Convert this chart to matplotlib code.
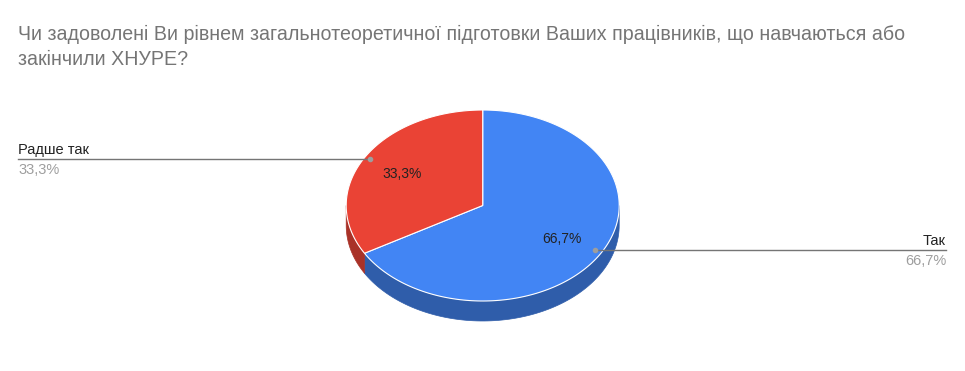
import numpy as np
import matplotlib
matplotlib.use("Agg")
import matplotlib.pyplot as plt
from matplotlib.patches import Polygon

title_lines = ["Чи задоволені Ви рівнем загальнотеоретичної підготовки Ваших працівників, що навчаються або",
               "закінчили ХНУРЕ?"]
categories = ["Так", "Радше так"]
values = [2, 1]
pct_labels = ["66,7%", "33,3%"]
colors = ["#4285F4", "#EA4335"]
side_colors = ["#2F5DAA", "#A93228"]

FONT = "Liberation Sans"
W, H = 965, 371
fig = plt.figure(figsize=(W / 100, H / 100), dpi=100)
ax = fig.add_axes([0, 0, 1, 1])
ax.set_xlim(0, W)
ax.set_ylim(H, 0)
ax.axis("off")

cx, cy, rx, ry, depth = 482.7, 205.5, 136.5, 95.5, 20

def pt(theta_deg, dy=0.0):
    t = np.deg2rad(theta_deg)
    return cx + rx * np.sin(t), cy - ry * np.cos(t) + dy

total = sum(values)
starts = []
acc = 0.0
for v in values:
    starts.append(acc / total * 360)
    acc += v
ends = [s + v / total * 360 for s, v in zip(starts, values)]

# side walls (visible front part: theta 90..270)
for s, e, sc in zip(starts, ends, side_colors):
    a0, a1 = max(s, 90), min(e, 270)
    if a1 <= a0:
        continue
    th = np.linspace(a0, a1, 100)
    top = [pt(t) for t in th]
    bot = [pt(t, depth) for t in th[::-1]]
    ax.add_patch(Polygon(top + bot, closed=True, facecolor=sc, edgecolor=sc, lw=0.5))

# top faces
for s, e, c in zip(starts, ends, colors):
    th = np.linspace(s, e, 200)
    poly = [(cx, cy)] + [pt(t) for t in th]
    ax.add_patch(Polygon(poly, closed=True, facecolor=c, edgecolor="white", lw=0.8))

# inner percentage labels
ax.text(562, 243, pct_labels[0], fontsize=10, family=FONT, color="#222222", ha="center", va="baseline")
ax.text(402.5, 178, pct_labels[1], fontsize=10, family=FONT, color="#222222", ha="center", va="baseline")

# leader lines
lc = "#757575"
ax.plot([370, 18], [159, 159], color=lc, lw=1)
ax.plot([370], [159], "o", ms=3, color="#9E9E9E")
ax.plot([595, 946], [250, 250], color=lc, lw=1)
ax.plot([595], [250], "o", ms=3, color="#9E9E9E")

ax.text(18, 154, categories[1], fontsize=10.5, family=FONT, color="#222222", ha="left", va="baseline")
ax.text(18, 174, pct_labels[1], fontsize=10.5, family=FONT, color="#9E9E9E", ha="left", va="baseline")
ax.text(946, 245, categories[0], fontsize=10.5, family=FONT, color="#222222", ha="right", va="baseline")
ax.text(946, 265, pct_labels[0], fontsize=10.5, family=FONT, color="#9E9E9E", ha="right", va="baseline")

# title
ax.text(18, 40, title_lines[0], fontsize=14.1, family=FONT, color="#757575", ha="left", va="baseline")
ax.text(18, 65, title_lines[1], fontsize=14.1, family=FONT, color="#757575", ha="left", va="baseline")

fig.savefig("out.png", dpi=100, facecolor="white")
